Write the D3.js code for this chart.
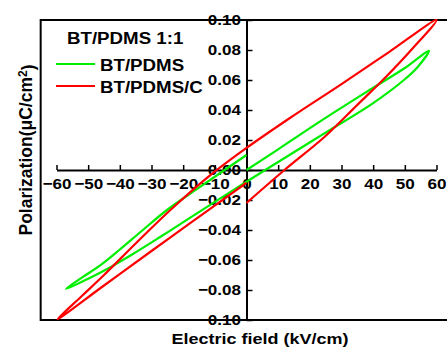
<!DOCTYPE html>
<meta charset="utf-8">
<head>
<style>
body { margin: 0; background: white; }
text { font-family: "Liberation Sans", Arial, sans-serif; font-weight: bold; fill: black; }
</style>
</head>
<script src="https://d3js.org/d3.v7.min.js"></script>
<div id="pe_loop"></div>
<script>

// BT/PDMS loop (E in kV/cm, P in uC/cm2), traced in drawing order
var greenE = [0, 10, 24.6, 40, 50, 57.6, 54, 50, 40, 24.6, 10, 0, -18, -27.3, -36, -43, -50, -57, -52, -46, -40, -33, -25, -15, 0];
var greenP = [0, 0.0138, 0.0342, 0.0548, 0.068, 0.0795, 0.0685, 0.0605, 0.0446, 0.0244, 0.0053, -0.0078,
              -0.0321, -0.0447, -0.0562, -0.0648, -0.0725, -0.0793, -0.0718, -0.0632, -0.053, -0.0405, -0.0265, -0.0118, 0.010];

// BT/PDMS/C loop
var redE = [0, 12, 24.6, 35, 44, 52, 60, 45, 30, 13.6, 0, -12, -24.2, -35, -45, -52, -59.7, -45, -30, -17.9, 0];
var redP = [-0.022, 0, 0.022, 0.0434, 0.062, 0.080, 0.100, 0.0786, 0.0573, 0.0345, 0.0147,
            -0.0044, -0.027, -0.049, -0.070, -0.084, -0.0995, -0.077, -0.054, -0.0356, -0.0085];

var xTicks = [-60, -50, -40, -30, -20, -10, 0, 10, 20, 30, 40, 50, 60];
var yTicks = [-0.10, -0.08, -0.06, -0.04, -0.02, 0.00, 0.02, 0.04, 0.06, 0.08, 0.10];

var seriesNames = ["BT/PDMS", "BT/PDMS/C"];
var seriesColors = ["#00ee00", "#ff0000"];

var W = 447, H = 347;
var svg = d3.select("#pe_loop").append("svg")
    .attr("width", W)
    .attr("height", H);

// scales
var x = d3.scaleLinear().domain([-60, 60]).range([56.5, 436.5]);
var y = d3.scaleLinear().domain([-0.1, 0.1]).range([320, 20]);

// frame (right side runs off the picture)
svg.append("rect")
    .attr("x", x(-65))
    .attr("y", y(0.1))
    .attr("width", 420)
    .attr("height", y(-0.1) - y(0.1))
    .attr("fill", "none")
    .attr("stroke", "black")
    .attr("stroke-width", 2);

// x axis through P = 0, ticks pointing up
var xAxis = svg.append("g")
    .attr("transform", "translate(0," + y(0) + ")")
    .call(d3.axisBottom(x).tickValues(xTicks).tickFormat(d3.format("d"))
        .tickSizeInner(-5).tickSizeOuter(0).tickPadding(8));

// y axis through E = 0, ticks pointing right
var yAxis = svg.append("g")
    .attr("transform", "translate(" + x(0) + ",0)")
    .call(d3.axisLeft(y).tickValues(yTicks).tickFormat(d3.format(".2f"))
        .tickSizeInner(-6).tickSizeOuter(0).tickPadding(5));

[xAxis, yAxis].forEach(function(a) {
  a.select(".domain").attr("stroke-width", 2);
  a.selectAll(".tick line").attr("stroke-width", 1.5);
  a.selectAll("text")
    .attr("font-size", "15.5px")
    .attr("font-family", null)
    .attr("transform", "scale(1.1,1)");
});

// the loops
var line = d3.line()
    .curve(d3.curveCatmullRom.alpha(0.5))
    .x(function(d) { return x(d[0]); })
    .y(function(d) { return y(d[1]); });

[[greenE, greenP], [redE, redP]].forEach(function(s, i) {
  var pts = s[0].map(function(e, j) { return [e, s[1][j]]; });
  svg.append("path")
    .datum(pts)
    .attr("d", line)
    .attr("fill", "none")
    .attr("stroke", seriesColors[i])
    .attr("stroke-width", 2.2)
    .attr("stroke-linejoin", "round");
});

// helper for horizontally stretched text
function label(tx, ty, str, size, sx) {
  return svg.append("text")
    .attr("transform", "translate(" + tx + "," + ty + ") scale(" + sx + ",1)")
    .attr("font-size", size + "px")
    .text(str);
}

// legend
label(67, 44, "BT/PDMS 1:1", 17, 1.1);
seriesNames.forEach(function(n, i) {
  var ly = 64 + i * 22;
  svg.append("line")
    .attr("x1", 56).attr("x2", 95)
    .attr("y1", ly).attr("y2", ly)
    .attr("stroke", seriesColors[i])
    .attr("stroke-width", 2.2);
  label(100, ly + 6.5, n, 17, 1.1);
});

// axis titles
label(260, 344, "Electric field (kV/cm)", 15, 1.2).attr("text-anchor", "middle");

var yt = svg.append("text")
    .attr("transform", "translate(32,150) rotate(-90)")
    .attr("text-anchor", "middle")
    .attr("font-size", "17.5px");
yt.append("tspan").text("Polarization(\u03bcC/cm");
yt.append("tspan").attr("dy", "-0.45em").attr("font-size", "12px").text("2");
yt.append("tspan").attr("dy", "0.45em").text(")");

</script>
